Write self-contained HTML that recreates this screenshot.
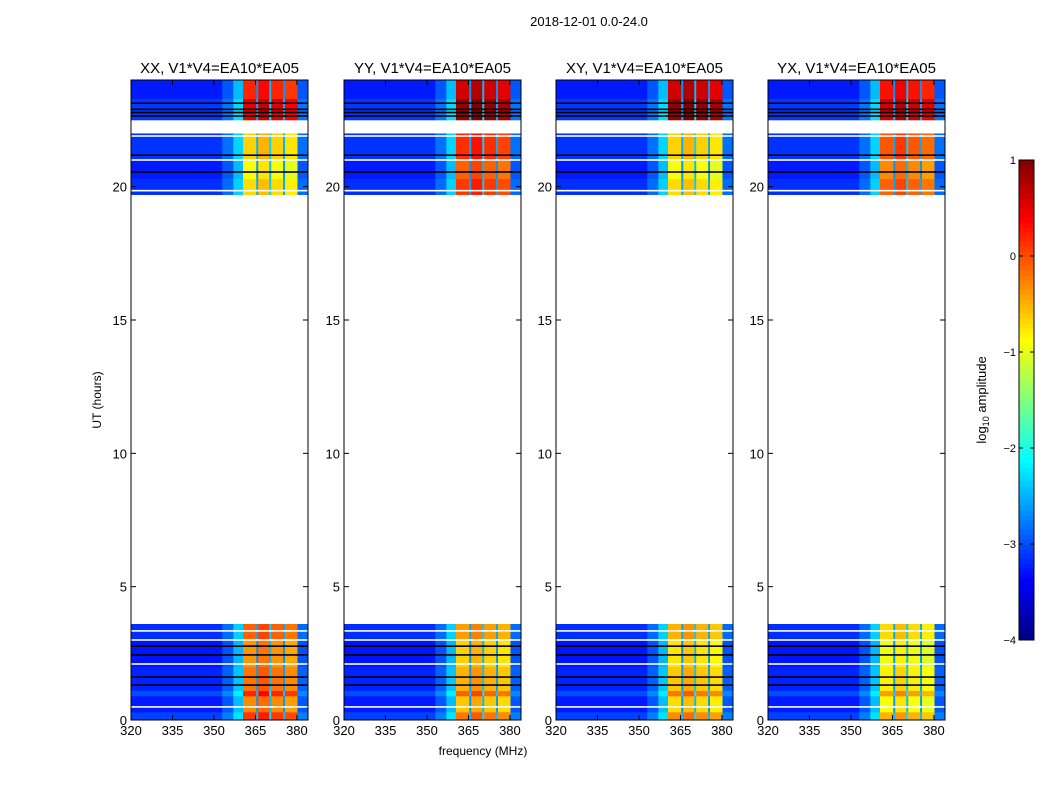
<!DOCTYPE html>
<html><head><meta charset="utf-8"><style>
html,body{margin:0;padding:0;background:#fff}
svg text{font-family:"Liberation Sans",sans-serif;fill:#000}
</style></head><body>
<svg id="chart" width="1050" height="800" xmlns="http://www.w3.org/2000/svg">
<text x="589" y="26" font-size="13" text-anchor="middle">2018-12-01 0.0-24.0</text>
<text x="483" y="755" font-size="12" text-anchor="middle">frequency (MHz)</text>
<text transform="translate(101,400) rotate(-90)" font-size="12" text-anchor="middle">UT (hours)</text>
<g id="panels"></g>
<g id="cbar"></g>
</svg>
<script>
const panelTitles = ["XX, V1*V4=EA10*EA05","YY, V1*V4=EA10*EA05","XY, V1*V4=EA10*EA05","YX, V1*V4=EA10*EA05"];
const xTicks = [320,335,350,365,380];
const yTicks = [0,5,10,15,20];
const cbarTicks = [1,0,-1,-2,-3,-4];
// frequency column edges (MHz) and base log10 amplitude (null = signal band)
const freqEdges = [320,353,357,360.5,365.3,366,370,370.7,375,375.7,380.2,384];
const colBase = [-3.2,-2.9,-2.4,null,-2.6,null,-2.4,null,-2.6,null,-2.9];
const colAdj = [0,0,0,0,0,0.15,0,0,0,-0.1,0];
// time rows (hours): start, end, segment (0 bottom, 1 mid, 2 top), offset
const rowStart = [0,0.3,0.9,1.1,2.0,3.0,19.7,20.3,21.0,22.5,23.3];
const rowEnd   = [0.3,0.9,1.1,2.0,3.0,3.6,20.3,21.0,22.0,23.3,24.0];
const rowSeg   = [0,0,0,0,0,0,1,1,1,2,2];
const rowOff   = [0.3,-0.1,0.4,0,-0.15,0.1,0.1,-0.1,0.15,0.2,-0.1];
// per panel signal levels [bottom, mid, top]
const levelXX = [-0.2,-0.8,0.3];
const levelYY = [-0.5,0.0,0.7];
const levelXY = [-0.6,-0.8,0.7];
const levelYX = [-0.8,-0.2,0.4];
const panelLevels = [levelXX,levelYY,levelXY,levelYX];
// flagged lines (hours)
const blackLines = [23.13,22.9,22.78,22.65,21.18,20.55,2.77,2.44,1.61,1.31];
const whiteLines = [21.9,21.0,19.85,3.34,3.0,2.1,0.49];
const whiteGaps = [[22.0,22.25]];

const NS="http://www.w3.org/2000/svg";
function mk(t,a,p){const e=document.createElementNS(NS,t);for(const k in a)e.setAttribute(k,a[k]);p.appendChild(e);return e;}
function jet(v){
  let t=(v+4)/5; t=Math.max(0,Math.min(1,t));
  const r=Math.min(1,Math.max(0,Math.min(4*t-1.5,-4*t+4.5)));
  const g=Math.min(1,Math.max(0,Math.min(4*t-0.5,-4*t+3.5)));
  const b=Math.min(1,Math.max(0,Math.min(4*t+0.5,-4*t+2.5)));
  return `rgb(${Math.round(r*255)},${Math.round(g*255)},${Math.round(b*255)})`;
}
const lefts=[131,344,556,768], W=177, pTop=80, pBot=720;
const xs=(L,f)=>L+(f-320)*W/64;
const ys=h=>pBot-(h/24)*(pBot-pTop);
const root=document.getElementById('panels');
lefts.forEach((L,p)=>{
  const g=mk('g',{},root);
  
  
  const hm=mk('g',{},g);
  
  
  for(let r=0;r<rowStart.length;r++){
    for(let c=0;c<colBase.length;c++){
      const v = colBase[c]===null ? panelLevels[p][rowSeg[r]]+colAdj[c]+rowOff[r] : colBase[c]+rowOff[r]*0.5;
      const y1=ys(rowEnd[r]), y2=ys(rowStart[r]);
      const x1=xs(L,freqEdges[c]), x2=xs(L,freqEdges[c+1]);
      const cell=mk('rect',{x:x1,y:y1,width:x2-x1+0.3,height:y2-y1+0.3,fill:jet(v)},hm);
      
      
    }
  }
  blackLines.forEach(h=>{const l=mk('rect',{x:L,y:ys(h)-0.8,width:W,height:1.6,fill:'#000'},g);
    });
  whiteLines.forEach(h=>{const l=mk('rect',{x:L,y:ys(h)-0.8,width:W,height:1.6,fill:'#fff'},g);
    });
  whiteGaps.forEach(a=>{const l=mk('rect',{x:L,y:ys(a[1]),width:W,height:ys(a[0])-ys(a[1]),fill:'#fff'},g);
    });
  const fr=mk('rect',{x:L,y:pTop,width:W,height:pBot-pTop,fill:'none',stroke:'#000','stroke-width':1},g);
  
  const tt=mk('text',{x:L+W/2,y:73,'font-size':15,'text-anchor':'middle'},g);tt.textContent=panelTitles[p];
  
  xTicks.forEach(f=>{const x=xs(L,f);
    mk('line',{x1:x,x2:x,y1:pBot,y2:pBot-5,stroke:'#000'},g);mk('line',{x1:x,x2:x,y1:pTop,y2:pTop+5,stroke:'#000'},g);
    const t=mk('text',{x:x,y:pBot+15,'font-size':13,'text-anchor':'middle'},g);t.textContent=f;
    });
  yTicks.forEach(h=>{const y=ys(h);
    mk('line',{x1:L,x2:L+5,y1:y,y2:y,stroke:'#000'},g);mk('line',{x1:L+W,x2:L+W-5,y1:y,y2:y,stroke:'#000'},g);
    const t=mk('text',{x:L-4,y:y+5,'font-size':13,'text-anchor':'end'},g);t.textContent=h;
    });
});
const cb=document.getElementById('cbar');

const cT=160,cB=640,cL=1019,cW=15;
const cy=v=>cB-(v+4)/5*(cB-cT);
for(let i=0;i<100;i++){const v=-4+5*i/100;
  mk('rect',{x:cL,y:cy(v+0.05),width:cW,height:(cB-cT)/100+0.5,fill:jet(v+0.025)},cb);}
mk('rect',{x:cL,y:cT,width:cW,height:cB-cT,fill:'none',stroke:'#000'},cb);
cbarTicks.forEach(v=>{const y=cy(v);
  mk('line',{x1:cL,x2:cL+4,y1:y,y2:y,stroke:'#000'},cb);mk('line',{x1:cL+cW,x2:cL+cW-4,y1:y,y2:y,stroke:'#000'},cb);
  const t=mk('text',{x:cL-3,y:y+4,'font-size':11,'text-anchor':'end'},cb);t.textContent=v<0?'\u2212'+(-v):v;
  });
const lab=mk('text',{transform:'translate(986,400) rotate(-90)','font-size':13,'text-anchor':'middle'},cb);
lab.innerHTML='log<tspan font-size="9" dy="3">10</tspan><tspan dy="-3"> amplitude</tspan>';

</script>
</body></html>
